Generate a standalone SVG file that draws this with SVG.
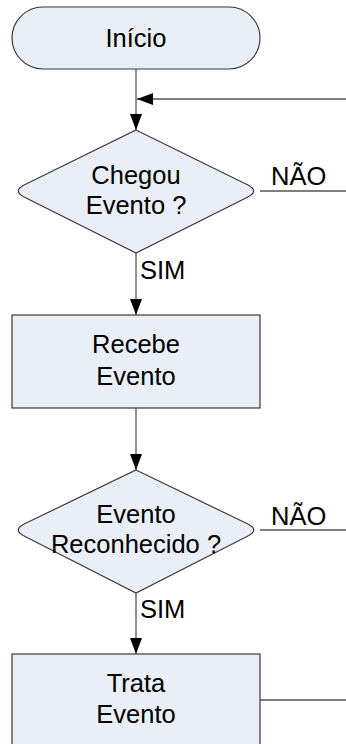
<svg xmlns="http://www.w3.org/2000/svg" width="346" height="744" viewBox="0 0 346 744">
  <style>
    .shape { fill: #E9EEF7; stroke: #3A3A3A; stroke-width: 1.2; }
    .label { font-family: "Liberation Sans", Arial, sans-serif; font-size: 25.5px; fill: #000; }
    .mid { text-anchor: middle; }
    .flow { fill: none; stroke: #555; stroke-width: 1.3; }
    .back { fill: none; stroke: #000; stroke-width: 1.2; }
  </style>
  <defs>
    <marker id="head" viewBox="0 0 16 12" refX="16" refY="6" markerWidth="16" markerHeight="12" markerUnits="userSpaceOnUse" orient="auto">
      <path d="M0,0 L16,6 L0,12 Z" fill="#000"/>
    </marker>
  </defs>

  <rect width="346" height="744" fill="#fff"/>

  <!-- connectors -->
  <g id="connectors">
    <line class="flow" x1="136" y1="69" x2="136" y2="130" marker-end="url(#head)"/>
    <line class="back" x1="346" y1="99" x2="137" y2="99" marker-end="url(#head)"/>
    <line class="flow" x1="260" y1="191" x2="346" y2="191"/>
    <line class="flow" x1="136" y1="253" x2="136" y2="315" marker-end="url(#head)"/>
    <line class="flow" x1="136" y1="408" x2="136" y2="470" marker-end="url(#head)"/>
    <line class="flow" x1="260" y1="530" x2="346" y2="530"/>
    <line class="flow" x1="136" y1="593" x2="136" y2="654" marker-end="url(#head)"/>
    <line class="flow" x1="260" y1="700" x2="346" y2="700"/>
    <text class="label" x="271" y="185">NÃO</text>
    <text class="label" x="140" y="279">SIM</text>
    <text class="label" x="271" y="525">NÃO</text>
    <text class="label" x="140" y="618">SIM</text>
  </g>

  <g id="inicio">
    <rect class="shape" x="12" y="7" width="248" height="62" rx="31" ry="31"/>
    <text class="label mid" x="136" y="47">Início</text>
  </g>

  <g id="chegou-evento">
    <path class="shape" d="M136,130 L247.4,184.8 Q260,191 247.4,197.2 L136,253 L24.6,197.2 Q12,191 24.6,184.8 Z"/>
    <text class="label mid" x="136" y="184">Chegou</text>
    <text class="label mid" x="136" y="214">Evento ?</text>
  </g>

  <g id="recebe-evento">
    <rect class="shape" x="12" y="315" width="248" height="93"/>
    <text class="label mid" x="136" y="353">Recebe</text>
    <text class="label mid" x="136" y="385">Evento</text>
  </g>

  <g id="evento-reconhecido">
    <path class="shape" d="M136,470 L247.4,523.8 Q260,530 247.4,536.2 L136,593 L24.6,536.2 Q12,530 24.6,523.8 Z"/>
    <text class="label mid" x="136" y="523">Evento</text>
    <text class="label mid" x="136" y="553">Reconhecido ?</text>
  </g>

  <g id="trata-evento">
    <rect class="shape" x="12" y="654" width="248" height="100"/>
    <text class="label mid" x="136" y="692">Trata</text>
    <text class="label mid" x="136" y="723">Evento</text>
  </g>
</svg>
